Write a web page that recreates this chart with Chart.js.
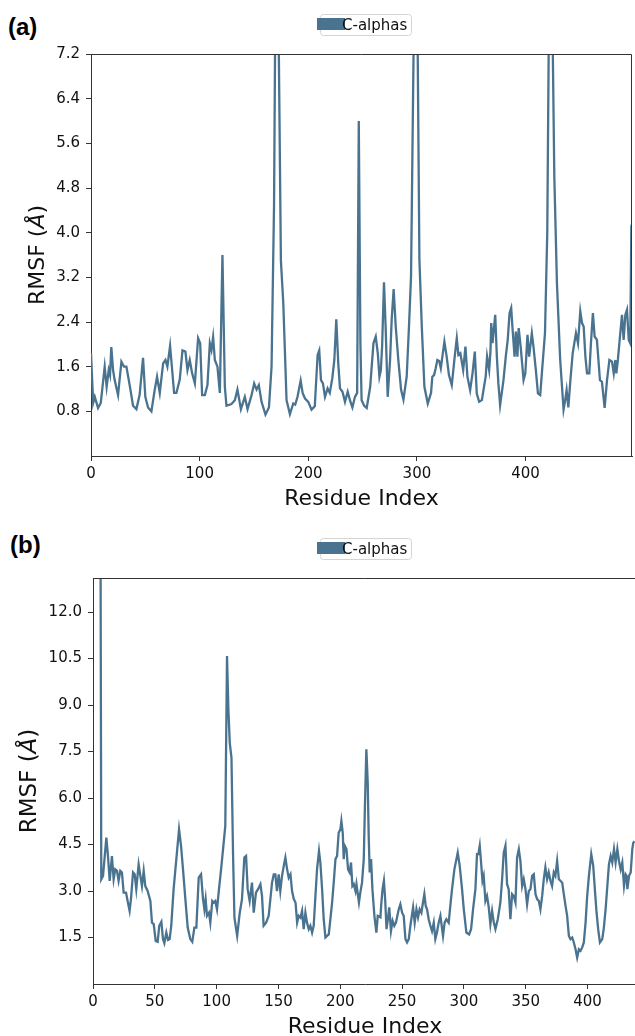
<!DOCTYPE html>
<html>
<head>
<meta charset="utf-8">
<script src="https://cdn.jsdelivr.net/npm/chart.js@4.4.1/dist/chart.umd.min.js"></script>
<style>
  body { margin: 0; background: #fff; width: 635px; height: 1036px; overflow: hidden; position: relative; }
  canvas { position: absolute; left: 0; }
  #chartA { top: 0; }
  #chartB { top: 520px; }
  .tag { position: absolute; font: bold 24px/24px 'Liberation Sans', Arial, sans-serif; color: #000; }
</style>
</head>
<body>
<div class="tag" style="left:8px;top:15px">(a)</div>
<div class="tag" style="left:10px;top:533px">(b)</div>
<canvas id="chartA" width="635" height="520"></canvas>
<canvas id="chartB" width="640" height="516"></canvas>
<script>
// labels
const seriesLabel = 'C-alphas';
const xTitle = 'Residue Index';
const yTitleParts = ['RMSF (', 'Å', ')'];

// panel (a): residue index / RMSF (peaks above 7.2 are clipped)
const resA = [
  0, 2, 3.5, 6.5, 9, 12.6, 14.4, 16.3, 17.5, 18.7,
  20.3, 21.8, 24.9, 28, 30.4, 32.6, 35.6, 38.7, 41.8, 44.8,
  47.9, 50, 52.5, 55.6, 58.7, 60.8, 63.3, 66.4, 68.5, 70.3,
  72.8, 74.7, 76.5, 78.6, 81.7, 84.2, 86.9, 88.8, 90.9, 93.1,
  95.6, 98.6, 100.5, 102.3, 104.8, 107.2, 109.4, 110.9, 112.4, 114,
  116.4, 118.6, 121, 123.2, 124.7, 129.3, 132.4, 134.8, 138, 141.6,
  144.1, 147.8, 150.2, 152.4, 154.5, 157, 160.6, 163.8, 166.2, 168.5,
  170, 172, 174.8, 177, 180, 183.1, 186.2, 188, 190.1, 193,
  194.8, 197, 200, 203, 206, 208.6, 210.1, 211.7, 213.5, 215.4,
  217.8, 219.8, 222.1, 224, 225.8, 227.6, 229.2, 231.5, 233.8, 236.3,
  238.5, 240.6, 243, 245, 246.5, 248, 249.1, 251.5, 253.8, 257,
  260, 262.1, 264, 265.5, 266.8, 268, 269.7, 271.2, 273.1, 275.3,
  276.8, 278.6, 280.5, 282.9, 285.4, 287.6, 290.6, 292.7, 294.6, 296.5,
  298, 300, 302.3, 304.5, 306.9, 310, 313, 314.2, 315.8, 317.3,
  318.8, 320.5, 322, 325.3, 327.4, 329.5, 332.1, 334.8, 336.7, 338.2,
  340, 342.6, 344.7, 346.5, 349, 351.2, 353.3, 355.1, 357.3, 359.8,
  363.3, 364.6, 366.5, 367.7, 368.4, 369.6, 372.1, 373.6, 375, 376.6,
  379.7, 381.8, 383.6, 385.3, 386.8, 388, 389.9, 391.1, 392.5, 393.7,
  395.5, 398.2, 399.8, 401.8, 403.3, 405.8, 407.3, 409.5, 411.4, 413.5,
  415.5, 417.9, 420, 422, 424, 426.5, 428.9, 431.9, 435, 436.5,
  437.8, 439.4, 441.3, 443.4, 446.4, 448.3, 450.4, 452, 453.5, 455.1,
  456.6, 458.7, 460.2, 462, 463.6, 465.7, 468.5, 470.3, 471.6, 472.8,
  475, 477.2, 479.6, 481.2, 482.7, 483.6, 485, 486.5, 488.8, 490.3,
  491.9, 493.4, 495, 496.4, 497.4, 498
];
const rmsfA = [
  1.84, 0.95, 1.06, 0.86, 0.95, 1.60, 1.24, 1.54, 1.45, 1.95,
  1.54, 1.36, 1.09, 1.69, 1.60, 1.60, 1.27, 0.90, 0.84, 1.10,
  1.76, 1.06, 0.87, 0.80, 1.19, 1.42, 1.13, 1.66, 1.72, 1.60,
  1.97, 1.54, 1.13, 1.13, 1.37, 1.89, 1.87, 1.54, 1.72, 1.48,
  1.30, 2.11, 2.02, 1.09, 1.09, 1.27, 2.02, 1.90, 2.13, 1.72,
  1.60, 1.13, 3.60, 1.24, 0.90, 0.93, 1.00, 1.19, 0.84, 1.06,
  0.84, 1.09, 1.30, 1.19, 1.27, 0.97, 0.74, 0.87, 1.60, 4.5,
  9.0, 9.0, 3.5, 2.74, 1.00, 0.75, 0.94, 0.92, 1.06, 1.35,
  1.13, 1.03, 0.97, 0.83, 0.89, 1.81, 1.89, 1.36, 1.30, 1.06,
  1.21, 1.13, 1.39, 1.72, 2.45, 1.66, 1.21, 1.15, 0.97, 1.15,
  0.99, 0.87, 1.06, 1.13, 6.0, 2.0, 1.0, 0.90, 0.86, 1.24,
  2.02, 2.14, 1.84, 1.42, 1.54, 1.97, 3.11, 2.32, 1.06, 1.72,
  2.45, 2.99, 2.32, 1.72, 1.19, 1.01, 1.42, 2.32, 3.22, 6.5,
  9.0, 9.0, 3.52, 2.32, 1.24, 0.94, 1.13, 1.42, 1.45, 1.57,
  1.72, 1.70, 1.57, 2.05, 1.78, 1.45, 1.27, 1.78, 2.11, 1.81,
  1.84, 1.54, 1.96, 1.42, 1.18, 1.48, 1.87, 1.12, 0.97, 1.00,
  1.42, 1.78, 1.54, 1.87, 2.38, 2.02, 2.53, 1.78, 1.30, 0.91,
  1.36, 1.78, 2.08, 2.56, 2.65, 2.29, 1.78, 2.23, 1.78, 2.29,
  1.96, 1.36, 1.48, 2.17, 1.78, 2.20, 1.96, 1.54, 1.12, 1.09,
  1.60, 2.20, 4.0, 9.0, 9.0, 5.0, 3.10, 1.72, 0.83, 1.00,
  1.18, 0.87, 1.36, 1.84, 2.20, 2.02, 2.59, 2.38, 2.32, 1.78,
  1.48, 1.48, 2.02, 2.56, 2.14, 2.08, 1.36, 1.33, 1.09, 0.86,
  1.36, 1.72, 1.69, 1.48, 1.72, 1.48, 1.72, 2.05, 2.53, 2.08,
  2.53, 2.62, 2.08, 2.02, 4.11, 4.15
];
const xTicksA = [0, 100, 200, 300, 400];
const yTicksA = [0.8, 1.6, 2.4, 3.2, 4.0, 4.8, 5.6, 6.4, 7.2];

// panel (b)
const resB = [
  6, 6.7, 8.1, 10.8, 12.1, 13.5, 15.3, 16.7, 18, 19.4,
  20.7, 22.1, 23.4, 24.8, 26.7, 28, 29.6, 30.7, 32.4, 33.7,
  35, 36.9, 38.3, 39.6, 41, 42.3, 44.2, 46.4, 47.7, 49.1,
  50.7, 52.3, 53.6, 55.3, 56.6, 57.7, 59.3, 60.7, 62, 63.3,
  65.2, 67.4, 69.6, 71.2, 72.8, 74.7, 76.6, 78.7, 80.3, 82,
  83.6, 85.5, 87.4, 89, 90.1, 91.1, 92.2, 93.8, 94.9, 96.5,
  97.6, 98.9, 100.3, 101.9, 103.6, 105.2, 107, 108.4, 109.5, 110.6,
  112, 113.3, 114.4, 116.6, 118.7, 120.5, 122.4, 123.8, 125.1, 126.7,
  128.6, 130, 131.8, 133.5, 135.4, 136.7, 138, 140, 142.1, 144.8,
  146.2, 147.5, 148.8, 150.2, 151.5, 152.9, 154.3, 155.6, 157, 158.3,
  159.7, 161, 162.4, 163.8, 165.1, 166.4, 167.8, 169.1, 170.4, 171.8,
  173.1, 174.5, 175.8, 177.2, 178.5, 179.9, 181.2, 182.8, 183.9, 185.3,
  186.6, 188, 189.3, 190.7, 192, 193.4, 194.7, 196.1, 197.4, 198.7,
  200.1, 200.9, 202, 202.8, 203.6, 205, 206.3, 207.6, 208.7, 209.8,
  210.9, 212.3, 213.1, 214, 215.1, 216.2, 217.6, 219, 220, 221.1,
  222.2, 223, 223.8, 224.9, 226, 227.6, 229.2, 230.3, 232.5, 233.1,
  234.2, 235.3, 236.3, 237.4, 238.5, 239.6, 241, 242.3, 243.7, 245,
  247.3, 248.6, 250, 251.3, 252.7, 254, 255.4, 256.7, 258.9, 260.2,
  261.6, 262.9, 264.2, 265.6, 266.9, 268, 269.1, 270.2, 271.5, 272.9,
  274.2, 275.6, 276.9, 278.2, 279.6, 281, 283.1, 284.4, 285.8, 287.7,
  289, 290.4, 292.3, 295, 296.6, 298.5, 299.9, 302, 304.2, 305.8,
  307.4, 309.3, 310.6, 311.7, 312.8, 313.9, 315, 316, 317.4, 318.7,
  320.1, 321.4, 322.8, 324.2, 325.5, 327.4, 329.5, 330.9, 332.2, 333.6,
  334.9, 336.2, 337.6, 339, 340.3, 341.7, 343, 344.4, 345.7, 347.1,
  348.4, 349.8, 351.1, 352.5, 353.8, 355.2, 356.5, 357.9, 359.2, 360.6,
  361.9, 363.3, 364.6, 365.9, 367.3, 368.6, 370, 371.3, 372.7, 374,
  375.4, 376.8, 378.1, 379.5, 380.8, 382.2, 383.5, 384.9, 386.2, 387.6,
  388.9, 390.3, 391.6, 393, 394.3, 395.7, 397, 398.4, 399.7, 401.1,
  403, 404.6, 405.9, 407.3, 408.6, 410, 411.9, 413.2, 414.6, 416,
  417.3, 418.7, 420, 421.4, 422.7, 424.1, 425.4, 426.8, 428.1, 429.5,
  430.8, 431.6, 432.2, 433.6, 434.9, 436.2, 437, 438
];
const rmsfB = [
  16, 3.38, 3.49, 4.72, 4.13, 3.33, 4.13, 3.38, 3.70, 3.65,
  3.33, 3.65, 3.60, 2.95, 2.95, 2.68, 2.36, 2.74, 3.60, 3.54,
  3.06, 3.86, 3.49, 3.16, 3.65, 3.16, 3.00, 2.68, 1.98, 1.93,
  1.39, 1.36, 1.88, 2.01, 1.45, 1.32, 1.66, 1.42, 1.45, 1.88,
  3.06, 4.03, 4.99, 4.46, 3.70, 2.74, 1.82, 1.45, 1.36, 1.82,
  1.82, 3.43, 3.54, 2.74, 2.41, 2.74, 2.20, 2.30, 1.98, 2.68,
  2.63, 2.68, 2.41, 3.06, 3.70, 4.35, 5.10, 10.58, 8.86, 7.79,
  7.30, 4.13, 2.14, 1.55, 2.30, 2.74, 4.08, 4.13, 3.06, 2.68,
  3.27, 2.30, 2.95, 3.06, 3.22, 2.84, 1.88, 1.98, 2.20, 3.27,
  3.54, 3.54, 3.00, 3.54, 3.00, 3.49, 3.81, 4.08, 3.70, 3.43,
  3.54, 3.00, 2.74, 2.63, 1.98, 2.20, 2.14, 2.36, 1.77, 2.30,
  1.98, 1.77, 1.88, 1.66, 1.88, 2.84, 3.70, 4.29, 3.92, 3.06,
  2.09, 1.50, 1.55, 1.60, 2.09, 2.63, 3.27, 4.03, 4.13, 4.88,
  4.99, 5.26, 4.88, 4.03, 4.46, 4.35, 3.70, 3.60, 3.92, 3.16,
  3.22, 3.00, 3.22, 2.95, 2.63, 2.95, 3.27, 4.03, 5.85, 7.57,
  6.50, 4.77, 3.60, 4.03, 3.06, 2.20, 1.66, 2.20, 2.15, 2.55,
  3.06, 3.33, 2.74, 1.77, 2.09, 2.47, 1.71, 2.04, 1.88, 1.98,
  2.41, 2.57, 2.30, 2.20, 1.45, 1.34, 1.45, 1.88, 2.47, 1.98,
  2.41, 2.15, 2.41, 2.30, 2.63, 2.90, 2.52, 2.41, 2.09, 1.88,
  1.71, 1.98, 1.45, 1.66, 1.98, 2.20, 1.55, 1.98, 2.09, 1.98,
  2.52, 3.06, 3.70, 4.24, 3.81, 3.06, 2.41, 1.66, 1.60, 1.77,
  2.41, 3.06, 4.19, 4.19, 4.46, 3.92, 3.33, 3.49, 2.68, 2.84,
  2.47, 1.93, 2.36, 1.98, 1.77, 2.09, 2.63, 3.38, 4.24, 4.46,
  3.22, 3.06, 2.09, 2.90, 2.84, 2.63, 4.08, 4.35, 3.97, 3.16,
  3.38, 3.06, 2.57, 3.00, 3.06, 3.49, 3.54, 2.90, 2.74, 2.68,
  2.41, 2.84, 3.38, 3.76, 3.38, 3.60, 3.33, 3.16, 3.60, 3.49,
  3.97, 3.38, 3.33, 3.27, 2.90, 2.52, 2.20, 1.55, 1.45, 1.50,
  1.34, 1.12, 0.85, 1.12, 1.07, 1.18, 1.34, 1.98, 2.84, 3.49,
  4.19, 3.81, 3.06, 2.30, 1.77, 1.34, 1.45, 1.82, 2.41, 3.16,
  3.86, 4.13, 3.92, 4.35, 3.92, 4.35, 3.97, 3.70, 3.92, 3.16,
  3.54, 3.49, 3.06, 3.49, 3.60, 4.35, 4.56, 4.60
];
const xTicksB = [0, 50, 100, 150, 200, 250, 300, 350, 400];
const yTicksB = [1.5, 3.0, 4.5, 6.0, 7.5, 9.0, 10.5, 12.0];

const lineColor = '#4a7390';
const axisColor = '#333';
const FONT = "'DejaVu Sans', sans-serif";

Chart.defaults.font.family = FONT;
Chart.defaults.color = '#111';

// frame, legend box, axis titles (y title has an italic Å like mathtext)
const decor = {
  id: 'decor',
  afterDraw(chart, args, o) {
    const { ctx, chartArea: a } = chart;
    ctx.save();
    ctx.strokeStyle = axisColor;
    ctx.lineWidth = 1;
    ctx.beginPath();
    const top = Math.round(a.top) + 0.5, right = Math.round(a.right) - 0.5;
    ctx.moveTo(a.left, top);
    ctx.lineTo(right, top);
    ctx.lineTo(right, a.bottom);
    ctx.stroke();

    // legend
    const L = o.legend;
    ctx.beginPath();
    ctx.roundRect(L.box[0] + 0.5, L.box[1] + 0.5, L.box[2], L.box[3], 3);
    ctx.fillStyle = 'rgba(255,255,255,0.85)';
    ctx.fill();
    ctx.strokeStyle = '#d4d4d4';
    ctx.stroke();
    ctx.fillStyle = lineColor;
    ctx.fillRect(L.patch[0], L.patch[1], L.patch[2], L.patch[3]);
    ctx.fillStyle = '#111';
    ctx.font = `${L.size}px ${FONT}`;
    ctx.textAlign = 'left';
    ctx.textBaseline = 'alphabetic';
    ctx.fillText(seriesLabel, L.textX, L.baseline);

    // x title
    ctx.font = `${o.xTitle.size}px ${FONT}`;
    ctx.textAlign = 'center';
    ctx.fillText(xTitle, (a.left + a.right) / 2, o.xTitle.baseline);

    // y title
    const t = o.yTitle;
    const fonts = [`${t.size}px ${FONT}`, `italic ${t.size}px ${FONT}`, `${t.size}px ${FONT}`];
    const widths = yTitleParts.map((s, i) => { ctx.font = fonts[i]; return ctx.measureText(s).width; });
    const total = widths.reduce((p, c) => p + c, 0);
    ctx.translate(t.x, (a.top + a.bottom) / 2);
    ctx.rotate(-Math.PI / 2);
    ctx.textAlign = 'left';
    ctx.textBaseline = 'middle';
    let x = -total / 2;
    yTitleParts.forEach((s, i) => {
      ctx.font = fonts[i];
      ctx.fillText(s, x, 0);
      x += widths[i];
    });
    ctx.restore();
  }
};

function rmsfChart(id, res, rmsf, o) {
  return new Chart(document.getElementById(id), {
    type: 'line',
    data: {
      datasets: [{
        label: seriesLabel,
        data: res.map((x, i) => ({ x, y: rmsf[i] })),
        borderColor: lineColor,
        borderWidth: 2.3,
        pointRadius: 0,
        tension: 0
      }]
    },
    options: {
      responsive: false,
      animation: false,
      events: [],
      layout: { padding: o.pad },
      plugins: {
        legend: { display: false },
        tooltip: { enabled: false },
        decor: o.decor
      },
      scales: {
        x: {
          type: 'linear',
          min: 0,
          max: o.xMax,
          afterFit: s => { s.height = o.xAxisH; },
          afterBuildTicks: s => { s.ticks = o.xTicks.map(v => ({ value: v })); },
          ticks: { font: { size: o.tickSize }, color: '#111', padding: 4, maxRotation: 0, autoSkip: false },
          grid: { drawOnChartArea: false, tickLength: 5, color: axisColor },
          border: { color: axisColor }
        },
        y: {
          min: 0,
          max: o.yMax,
          afterFit: s => { s.width = o.yAxisW; },
          afterBuildTicks: s => { s.ticks = o.yTicks.map(v => ({ value: v })); },
          ticks: { font: { size: o.tickSize }, color: '#111', padding: 6, callback: v => v.toFixed(1) },
          grid: { drawOnChartArea: false, tickLength: 5, color: axisColor },
          border: { color: axisColor }
        }
      }
    },
    plugins: [decor]
  });
}

rmsfChart('chartA', resA, rmsfA, {
  pad: { top: 54, right: 3, left: 0, bottom: 0 },
  xMax: 498, yMax: 7.2, xTicks: xTicksA, yTicks: yTicksA,
  xAxisH: 64, yAxisW: 91, tickSize: 15,
  decor: {
    legend: { box: [320, 14, 91, 21], patch: [317, 18, 28, 12], textX: 342, baseline: 29.5, size: 15 },
    xTitle: { size: 22, baseline: 505 },
    yTitle: { size: 22, x: 38 }
  }
});

rmsfChart('chartB', resB, rmsfB, {
  pad: { top: 58, right: 3, left: 0, bottom: 0 },
  xMax: 440, yMax: 13.1, xTicks: xTicksB, yTicks: yTicksB,
  xAxisH: 52, yAxisW: 93, tickSize: 15,
  decor: {
    legend: { box: [320, 18, 91, 21], patch: [317, 22, 28, 12], textX: 342, baseline: 33.5, size: 15 },
    xTitle: { size: 22, baseline: 513 },
    yTitle: { size: 23, x: 30 }
  }
});
</script>
</body>
</html>
